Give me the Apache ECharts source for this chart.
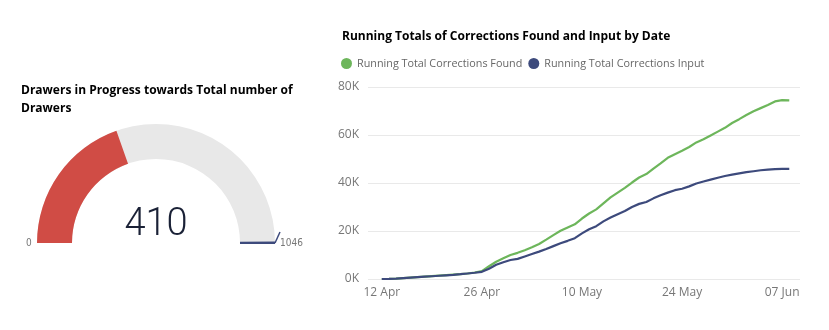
<!DOCTYPE html>
<html>
<head>
<meta charset="utf-8">
<script src="https://cdn.jsdelivr.net/npm/echarts@6/dist/echarts.min.js"></script>
<style>
html,body{margin:0;padding:0;background:#fff;}
#c{width:829px;height:330px;}
</style>
</head>
<body>
<div id="c"></div>
<script>
// ---------- data ----------
const gaugeTitle = 'Drawers in Progress towards Total number of\nDrawers';
const gaugeValue = 410;
const gaugeMin = 0;
const gaugeMax = 1046;

const lineTitle = 'Running Totals of Corrections Found and Input by Date';
const seriesNames = ['Running Total Corrections Found', 'Running Total Corrections Input'];

const dates = [
  '12 Apr','13 Apr','14 Apr','15 Apr','16 Apr','17 Apr','18 Apr','19 Apr','20 Apr','21 Apr',
  '22 Apr','23 Apr','24 Apr','25 Apr','26 Apr','27 Apr','28 Apr','29 Apr','30 Apr',
  '01 May','02 May','03 May','04 May','05 May','06 May','07 May','08 May','09 May','10 May',
  '11 May','12 May','13 May','14 May','15 May','16 May','17 May','18 May','19 May','20 May',
  '21 May','22 May','23 May','24 May','25 May','26 May','27 May','28 May','29 May','30 May','31 May',
  '01 Jun','02 Jun','03 Jun','04 Jun','05 Jun','06 Jun','07 Jun','08 Jun'
];
const tickLabels = ['12 Apr','26 Apr','10 May','24 May','07 Jun'];

// values in thousands
const found = [
  0,0.05,0.15,0.4,0.6,0.8,1.0,1.2,1.4,1.6,
  1.8,2.0,2.3,2.7,3.3,5.3,7.2,8.6,10.0,10.9,
  12.0,13.2,14.6,16.4,18.3,20.1,21.5,22.8,25.2,27.3,
  29.0,31.5,34.0,36.0,38.0,40.2,42.3,43.7,46.0,48.2,
  50.5,52.0,53.4,55.0,56.9,58.2,59.8,61.4,63.0,65.0,
  66.6,68.3,69.9,71.2,72.5,74.0,74.5,74.4
];
const input = [
  0,0.05,0.15,0.35,0.55,0.75,0.95,1.15,1.35,1.55,
  1.75,2.0,2.3,2.6,3.0,4.3,5.9,7.0,7.9,8.4,
  9.4,10.4,11.4,12.5,13.7,14.9,15.9,17.0,19.0,20.7,
  22.0,24.0,25.6,27.0,28.3,30.0,31.3,32.1,33.6,34.9,
  36.0,37.0,37.6,38.6,39.8,40.6,41.4,42.2,42.9,43.5,
  44.0,44.5,44.9,45.3,45.6,45.8,45.9,45.9
];
const yTicks = [0,20,40,60,80];

// ---------- chart ----------
const GC = [156, 243];
const GR = 119;
const GW = 35;
const FONT = '"Open Sans", "Noto Sans", sans-serif';
const SMALL = '"DejaVu Sans Condensed", "Liberation Sans Narrow", sans-serif';

const tickIdx = tickLabels.map(t => dates.indexOf(t));
const pairs = arr => arr.map((v, i) => [i, v]);

const chart = echarts.init(document.getElementById('c'), null, {renderer: 'canvas'});
chart.setOption({
  animation: false,
  title: [
    {text: gaugeTitle, left: 16, top: 77,
     textStyle: {fontFamily: FONT, fontSize: 12, fontWeight: 'bold', color: '#000', lineHeight: 18}},
    {text: lineTitle, left: 337, top: 26,
     textStyle: {fontFamily: FONT, fontSize: 12, fontWeight: 'bold', color: '#000'}}
  ],
  legend: {
    left: 336, top: 53, itemWidth: 11, itemHeight: 11, itemGap: 6, icon: 'circle',
    textStyle: {fontFamily: FONT, fontSize: 10.8, color: '#666'},
    data: seriesNames
  },
  grid: {left: 368, right: 29, top: 87, bottom: 51},
  xAxis: {
    type: 'value', min: -1.93, max: 58.5,
    axisLine: {show: false}, axisTick: {show: false}, splitLine: {show: false},
    axisLabel: {
      customValues: tickIdx, margin: 8,
      fontFamily: FONT, fontSize: 12, color: '#777',
      formatter: v => dates[Math.round(v)] || ''
    }
  },
  yAxis: {
    type: 'value', min: yTicks[0], max: yTicks[yTicks.length - 1], interval: 20,
    axisLine: {show: false}, axisTick: {show: false},
    splitLine: {lineStyle: {color: '#e9e9e9', width: 1}},
    axisLabel: {margin: 9, fontFamily: FONT, fontSize: 12, color: '#777', formatter: v => v + 'K'}
  },
  series: [
    {name: seriesNames[0], type: 'line', data: pairs(found), showSymbol: false, symbol: 'circle',
     lineStyle: {color: '#6db65b', width: 2.2}, itemStyle: {color: '#6db65b'}, z: 3},
    {name: seriesNames[1], type: 'line', data: pairs(input), showSymbol: false, symbol: 'circle',
     lineStyle: {color: '#3d4a7c', width: 2.2}, itemStyle: {color: '#3d4a7c'}, z: 4},
    {
      type: 'gauge', center: GC, radius: GR, startAngle: 180, endAngle: 0,
      min: gaugeMin, max: gaugeMax,
      axisLine: {lineStyle: {width: GW, color: [[1, '#e8e8e8']]}},
      progress: {show: true, width: GW, itemStyle: {color: '#d04c45'}},
      pointer: {show: false}, axisTick: {show: false}, splitLine: {show: false}, axisLabel: {show: false},
      anchor: {show: false}, title: {show: false},
      detail: {offsetCenter: [0, -18], fontSize: 38, fontWeight: 300, fontFamily: 'Roboto',
               color: '#1a2136', formatter: '{value}'},
      data: [{value: gaugeValue}]
    },
    {
      // target marker + max label
      type: 'gauge', center: GC, radius: GR, startAngle: 0.2, endAngle: 0,
      min: gaugeMin, max: gaugeMax, splitNumber: 1,
      axisLine: {show: false, lineStyle: {width: 0}},
      pointer: {show: false}, axisTick: {show: false}, anchor: {show: false}, title: {show: false}, detail: {show: false},
      splitLine: {show: true, length: GW, distance: 0, lineStyle: {color: '#3d4a7c', width: 2}},
      axisLabel: {show: true, distance: -63, padding: [0, 0, 6, 0],
                  fontFamily: SMALL, fontSize: 10, color: '#777',
                  formatter: v => v === gaugeMax ? String(gaugeMax) : ''},
      data: []
    },
    {
      // min label
      type: 'gauge', center: GC, radius: GR, startAngle: 180, endAngle: 179.8,
      min: gaugeMin, max: gaugeMax, splitNumber: 1,
      axisLine: {show: false, lineStyle: {width: 0}},
      pointer: {show: false}, axisTick: {show: false}, anchor: {show: false}, title: {show: false}, detail: {show: false},
      splitLine: {show: false, length: 0, distance: 0},
      axisLabel: {show: true, distance: -11, padding: [0, 0, 6, 0],
                  fontFamily: SMALL, fontSize: 10, color: '#777',
                  formatter: v => v === gaugeMin ? String(gaugeMin) : ''},
      data: []
    }
  ],
  graphic: [
    {type: 'line', shape: {x1: GC[0] + GR, y1: GC[1], x2: GC[0] + GR + 5, y2: GC[1] - 11},
     style: {stroke: '#3d4a7c', lineWidth: 1.5}}
  ]
});
</script>
</body>
</html>
